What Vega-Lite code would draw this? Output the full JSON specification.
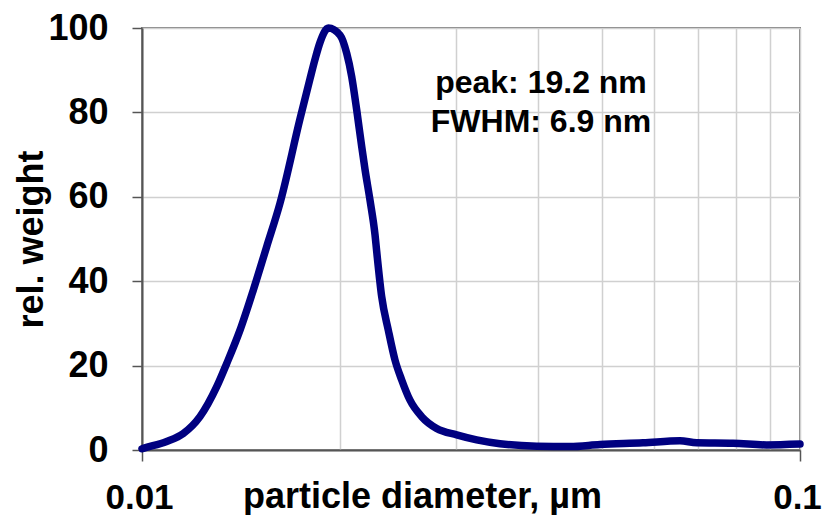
{
  "$schema": "https://vega.github.io/schema/vega-lite/v6.json",
  "autosize": "none",
  "width": 658,
  "height": 422,
  "padding": {"left": 142, "top": 28, "right": 26, "bottom": 65},
  "background": "white",
  "config": {
    "font": "Liberation Sans",
    "view": {"stroke": "#808080", "strokeWidth": 2},
    "axis": {
      "labelFont": "Liberation Sans",
      "titleFont": "Liberation Sans",
      "labelFontWeight": "bold",
      "titleFontWeight": "bold",
      "labelColor": "black",
      "titleColor": "black",
      "gridColor": "#d0d0d0",
      "gridWidth": 1.5,
      "domainColor": "#555555",
      "domainWidth": 2,
      "tickColor": "#555555",
      "tickWidth": 1.5
    }
  },
  "datasets": {
    "curve": [
      {"d": 0.01, "w": 0.3},
      {"d": 0.010046, "w": 0.4},
      {"d": 0.010902, "w": 2.0},
      {"d": 0.011555, "w": 3.9},
      {"d": 0.012249, "w": 7.9},
      {"d": 0.012989, "w": 15.0},
      {"d": 0.013451, "w": 20.5},
      {"d": 0.014091, "w": 28.4},
      {"d": 0.014763, "w": 37.9},
      {"d": 0.015472, "w": 48.2},
      {"d": 0.016209, "w": 58.5},
      {"d": 0.017386, "w": 78.5},
      {"d": 0.018005, "w": 88.0},
      {"d": 0.018323, "w": 92.6},
      {"d": 0.018646, "w": 96.6},
      {"d": 0.0192, "w": 100.0},
      {"d": 0.019995, "w": 98.3},
      {"d": 0.020469, "w": 94.0},
      {"d": 0.02083, "w": 88.5},
      {"d": 0.021198, "w": 80.6},
      {"d": 0.021572, "w": 71.9},
      {"d": 0.021823, "w": 66.5},
      {"d": 0.022208, "w": 59.2},
      {"d": 0.022601, "w": 51.0},
      {"d": 0.022736, "w": 47.0},
      {"d": 0.023137, "w": 36.3},
      {"d": 0.023678, "w": 28.4},
      {"d": 0.02424, "w": 21.3},
      {"d": 0.024814, "w": 16.6},
      {"d": 0.025544, "w": 11.8},
      {"d": 0.026612, "w": 7.9},
      {"d": 0.028044, "w": 5.1},
      {"d": 0.030082, "w": 3.6},
      {"d": 0.032259, "w": 2.4},
      {"d": 0.035, "w": 1.5},
      {"d": 0.0398, "w": 0.9},
      {"d": 0.04472, "w": 0.8},
      {"d": 0.04966, "w": 1.3},
      {"d": 0.05772, "w": 1.7},
      {"d": 0.0657, "w": 2.2},
      {"d": 0.06966, "w": 1.7},
      {"d": 0.07911, "w": 1.6},
      {"d": 0.08898, "w": 1.2},
      {"d": 0.1, "w": 1.4}
    ],
    "notes": [
      {"d": 0.0404, "w": 84.6, "t": "peak: 19.2 nm"},
      {"d": 0.0404, "w": 75.4, "t": "FWHM: 6.9 nm"}
    ]
  },
  "layer": [
    {
      "data": {"name": "curve"},
      "mark": {"type": "line", "color": "#000080", "strokeWidth": 7.5, "interpolate": "monotone", "strokeJoin": "round", "strokeCap": "round", "clip": false},
      "encoding": {
        "x": {
          "field": "d",
          "type": "quantitative",
          "scale": {"type": "log", "domain": [0.01, 0.1], "nice": false},
          "axis": {
            "values": [0.01, 0.02, 0.03, 0.04, 0.05, 0.06, 0.07, 0.08, 0.09, 0.1],
            "labelExpr": "datum.value < 0.011 ? '0.01' : (datum.value > 0.099 ? '0.1' : '')",
            "labelFontSize": 35,
            "labelPadding": 19,
            "labelOffset": -3,
            "labelOverlap": false,
            "labelFlush": false,
            "tickSize": 11,
            "tickOpacity": {"condition": {"test": "datum.value < 0.011 || datum.value > 0.099", "value": 1}, "value": 0},
            "title": "particle diameter, µm",
            "titleFontSize": 36,
            "titleX": 280,
            "titleY": 57,
            "titleAlign": "center",
            "titleBaseline": "alphabetic"
          }
        },
        "y": {
          "field": "w",
          "type": "quantitative",
          "scale": {"domain": [0, 100], "nice": false},
          "axis": {
            "values": [0, 20, 40, 60, 80, 100],
            "labelFontSize": 36,
            "labelPadding": 24,
            "tickSize": 10,
            "title": "rel. weight",
            "titleFontSize": 36,
            "titleAngle": 270,
            "titleX": -100,
            "titleY": 211,
            "titleAlign": "center",
            "titleBaseline": "alphabetic"
          }
        }
      }
    },
    {
      "data": {"name": "notes"},
      "mark": {"type": "text", "fontSize": 32, "fontWeight": "bold", "font": "Liberation Sans", "color": "black", "align": "center", "baseline": "alphabetic"},
      "encoding": {
        "x": {"field": "d", "type": "quantitative"},
        "y": {"field": "w", "type": "quantitative"},
        "text": {"field": "t"}
      }
    }
  ]
}
